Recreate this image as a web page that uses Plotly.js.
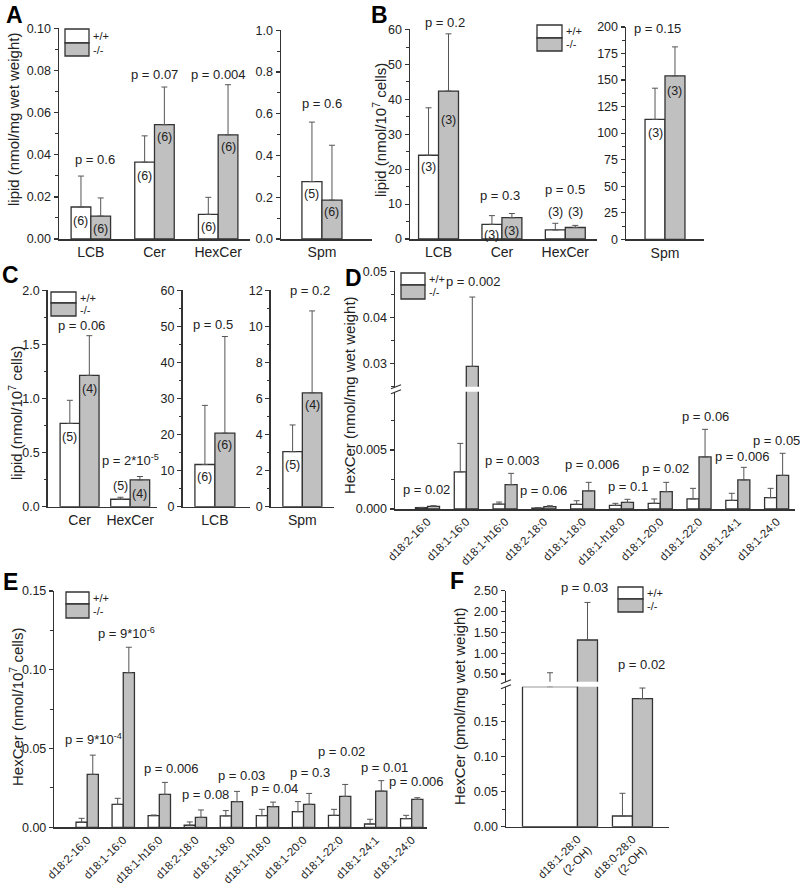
<!DOCTYPE html>
<html><head><meta charset="utf-8">
<script src="https://cdn.plot.ly/plotly-3.0.1.min.js"></script>
<style>body{margin:0;background:#fff}#chart{width:800px;height:892px}</style>
</head><body><div id="chart"></div>
<script>
// ================= DATA =================
const catsMain = ['LCB', 'Cer', 'HexCer'];
const catsSpm = ['Spm'];
// Panel A (nmol/mg wet weight)
const aWt = [0.0152, 0.0365, 0.0117];
const aWtSd = [0.0147, 0.0125, 0.0081];
const aKo = [0.0109, 0.0543, 0.0495];
const aKoSd = [0.0086, 0.0179, 0.0238];
const aNWt = [6, 6, 6], aNKo = [6, 6, 6];
const aP = ['p = 0.6', 'p = 0.07', 'p = 0.004'];
const aSpmWt = [0.275], aSpmWtSd = [0.285], aSpmKo = [0.186], aSpmKoSd = [0.263];
const aSpmNWt = [5], aSpmNKo = [6], aSpmP = ['p = 0.6'];
// Panel B (nmol/10^7 cells)
const bWt = [24.0, 4.2, 2.6];
const bWtSd = [13.6, 2.5, 1.9];
const bKo = [42.4, 6.1, 3.3];
const bKoSd = [16.4, 1.2, 0.6];
const bNWt = [3, 3, 3], bNKo = [3, 3, 3];
const bP = ['p = 0.2', 'p = 0.3', 'p = 0.5'];
const bSpmWt = [112.9], bSpmWtSd = [29.4], bSpmKo = [153.9], bSpmKoSd = [27.3];
const bSpmNWt = [3], bSpmNKo = [3], bSpmP = ['p = 0.15'];
// Panel C (nmol/10^7 cells)
const catsC1 = ['Cer', 'HexCer'];
const cWt = [0.769, 0.069], cWtSd = [0.214, 0.018];
const cKo = [1.213, 0.248], cKoSd = [0.367, 0.031];
const cNWt = [5, 5], cNKo = [4, 4];
const cP = ['p = 0.06', 'p = 2*10<sup>-5</sup>'];
const catsC2 = ['LCB'];
const cLcbWt = [11.7], cLcbWtSd = [16.4], cLcbKo = [20.4], cLcbKoSd = [26.8];
const cLcbNWt = [6], cLcbNKo = [6], cLcbP = ['p = 0.5'];
const cSpmWt = [3.05], cSpmWtSd = [1.48], cSpmKo = [6.31], cSpmKoSd = [4.54];
const cSpmNWt = [5], cSpmNKo = [4], cSpmP = ['p = 0.2'];
// Panel D (HexCer species, nmol/mg wet weight)
const catsD = ['d18:2-16:0', 'd18:1-16:0', 'd18:1-h16:0', 'd18:2-18:0', 'd18:1-18:0',
               'd18:1-h18:0', 'd18:1-20:0', 'd18:1-22:0', 'd18:1-24:1', 'd18:1-24:0'];
const dWt = [0.00011, 0.00314, 0.00042, 0.00008, 0.00040, 0.00031, 0.00048, 0.00085, 0.00073, 0.00096];
const dWtSd = [0.00003, 0.00242, 0.00017, 0.00003, 0.00030, 0.00017, 0.00037, 0.00090, 0.00060, 0.00079];
const dKo = [0.00023, 0.0294, 0.00206, 0.00020, 0.00153, 0.00056, 0.00147, 0.00441, 0.00246, 0.00285];
const dKoSd = [0.00005, 0.0150, 0.00096, 0.00008, 0.00073, 0.00026, 0.00079, 0.00234, 0.00107, 0.00187];
const dP = ['p = 0.02', 'p = 0.002', 'p = 0.003', 'p = 0.06', 'p = 0.006', 'p = 0.1', 'p = 0.02', 'p = 0.06', 'p = 0.006', 'p = 0.05'];
// Panel E (HexCer species, nmol/10^7 cells)
const catsE = catsD.slice();
const eWt = [0.0032, 0.0146, 0.0074, 0.0013, 0.0072, 0.0074, 0.0099, 0.0076, 0.0021, 0.0055];
const eWtSd = [0.0025, 0.0038, 0.0004, 0.0021, 0.0034, 0.0040, 0.0064, 0.0038, 0.0030, 0.0021];
const eKo = [0.0336, 0.0982, 0.0209, 0.0063, 0.0163, 0.0131, 0.0146, 0.0196, 0.0230, 0.0177];
const eKoSd = [0.0122, 0.0161, 0.0076, 0.0047, 0.0065, 0.0029, 0.0069, 0.0076, 0.0066, 0.0011];
const eP = ['p = 9*10<sup>-4</sup>', 'p = 9*10<sup>-6</sup>', 'p = 0.006', 'p = 0.08', 'p = 0.03', 'p = 0.04', 'p = 0.3', 'p = 0.02', 'p = 0.01', 'p = 0.006'];
// Panel F (pmol/mg wet weight)
const catsF = ['d18:1-28:0<br>(2-OH)', 'd18:0-28:0<br>(2-OH)'];
const fWt = [0.200, 0.0153], fWtSd = [0.330, 0.0324];
const fKo = [1.317, 0.183], fKoSd = [0.903, 0.015];
const fP = ['p = 0.03', 'p = 0.02'];

// ================= DRAWING =================
const FONT = 'Liberation Sans, Arial, Helvetica, sans-serif';
const W = 800, H = 892;
const fx = p => p / W, fy = p => 1 - p / H;
const data = [], annotations = [], shapes = [];
const layout = {
  width: W, height: H, margin: {l: 0, r: 0, t: 0, b: 0},
  paper_bgcolor: '#fff', plot_bgcolor: 'rgba(0,0,0,0)', barmode: 'overlay', showlegend: false,
  font: {family: FONT, color: '#222'}, annotations: annotations, shapes: shapes
};
const sfx = n => (n === 1 ? '' : String(n));
const LINE = '#333';

function makeAxes(n, box, xr, yr, yt, xo) {
  const s = sfx(n);
  layout['xaxis' + s] = Object.assign({
    domain: [fx(box[0]), fx(box[1])], range: xr, anchor: 'y' + s, type: 'category',
    showline: true, linecolor: LINE, linewidth: 1.5, ticks: '', showgrid: false, zeroline: false,
    tickfont: {size: 14, color: '#222'}, fixedrange: true
  }, xo || {});
  layout['yaxis' + s] = {
    domain: [fy(box[3]), fy(box[2])], range: yr, anchor: 'x' + s,
    showline: true, linecolor: LINE, linewidth: 1.5, ticks: 'outside', ticklen: 4, tickwidth: 1.2, tickcolor: LINE,
    showgrid: false, zeroline: false, tickfont: {size: 12.5, color: '#222'},
    tickmode: 'linear', tick0: 0, dtick: yt.dtick, tickformat: yt.fmt,
    minor: {ticks: 'outside', ticklen: 2.5, tickwidth: 1, tickcolor: LINE, dtick: yt.minor, tick0: 0, showgrid: false},
    fixedrange: true
  };
}

function eb(sd) {
  return {type: 'data', symmetric: false, array: sd, arrayminus: sd.map(() => 0),
          color: '#555', thickness: 1, width: 3};
}
function addBars(n, cats, wt, wtSd, ko, koSd, w, wtW, wtOff) {
  const s = sfx(n);
  data.push({type: 'bar', x: cats, y: wt, xaxis: 'x' + s, yaxis: 'y' + s,
    width: wtW || w, offset: wtOff || -w,
    marker: {color: '#ffffff', line: {color: LINE, width: 1.3}}, error_y: eb(wtSd), hoverinfo: 'skip'});
  data.push({type: 'bar', x: cats, y: ko, xaxis: 'x' + s, yaxis: 'y' + s, width: w, offset: 0,
    marker: {color: '#c0c0c0', line: {color: LINE, width: 1.3}}, error_y: eb(koSd), hoverinfo: 'skip'});
}
// n-labels: shift < 0 -> inside bar below top; shift > 0 -> above bar
function addN(n, vals, nums, w, side, shifts) {
  const s = sfx(n);
  vals.forEach((v, i) => {
    const sh = shifts[i];
    annotations.push({xref: 'x' + s, yref: 'y' + s, x: i + side * w / 2, y: v, text: '(' + nums[i] + ')',
      showarrow: false, xanchor: 'center', yanchor: sh > 0 ? 'bottom' : 'top', yshift: sh,
      font: {size: 12.5, color: '#222'}});
  });
}
function addP(nLo, nUp, loMax, wt, wtSd, ko, koSd, texts, xsh, ysh) {
  texts.forEach((t, i) => {
    const top = Math.max(wt[i] + wtSd[i], ko[i] + koSd[i]);
    const s = sfx((nUp && top > loMax) ? nUp : nLo);
    annotations.push({xref: 'x' + s, yref: 'y' + s, x: i, y: top, text: t, showarrow: false,
      xanchor: 'center', yanchor: 'bottom', xshift: xsh[i], yshift: ysh[i], font: {size: 13, color: '#222'}});
  });
}
function yTitle(x, y, t) {
  annotations.push({xref: 'paper', yref: 'paper', x: fx(x), y: fy(y), text: t, textangle: -90, showarrow: false,
    xanchor: 'center', yanchor: 'middle', font: {size: 15, color: '#222'}});
}
function letter(x, y, t) {
  annotations.push({xref: 'paper', yref: 'paper', x: fx(x), y: fy(y), text: '<b>' + t + '</b>', showarrow: false,
    xanchor: 'center', yanchor: 'middle', font: {size: 23, color: '#000'}});
}
function legendBox(x0, x1, yT, yM, yB) {
  shapes.push({type: 'rect', xref: 'paper', yref: 'paper', x0: fx(x0), x1: fx(x1), y0: fy(yM), y1: fy(yT),
    fillcolor: '#ffffff', line: {color: LINE, width: 1.3}});
  shapes.push({type: 'rect', xref: 'paper', yref: 'paper', x0: fx(x0), x1: fx(x1), y0: fy(yB), y1: fy(yM),
    fillcolor: '#c0c0c0', line: {color: LINE, width: 1.3}});
  annotations.push({xref: 'paper', yref: 'paper', x: fx(x1 + 2), y: fy((yT + yM) / 2), text: '+/+', showarrow: false,
    xanchor: 'left', yanchor: 'middle', font: {size: 11, color: '#222'}});
  annotations.push({xref: 'paper', yref: 'paper', x: fx(x1 + 2), y: fy((yM + yB) / 2), text: '-/-', showarrow: false,
    xanchor: 'left', yanchor: 'middle', font: {size: 11, color: '#222'}});
}
function breakMark(x, y) {
  [-2.5, 2.5].forEach(d => shapes.push({type: 'line', xref: 'paper', yref: 'paper',
    x0: fx(x - 5), y0: fy(y + d + 2), x1: fx(x + 5), y1: fy(y + d - 2), line: {color: LINE, width: 1.2}}));
}

// ---- Panel A ----
const wA1 = 0.31, wA2 = 0.22;
makeAxes(1, [59, 250, 28.3, 239], [-0.5, 2.5], [0, 0.1001], {dtick: 0.02, minor: 0.01, fmt: '.2f'});
addBars(1, catsMain, aWt, aWtSd, aKo, aKoSd, wA1);
addN(1, aWt, aNWt, wA1, -1, [-5, -5, -4]);
addN(1, aKo, aNKo, wA1, 1, [-4, -3, -3]);
addP(1, null, 0, aWt, aWtSd, aKo, aKoSd, aP, [4, 0, 0], [7, 3, 1]);
makeAxes(2, [281, 372, 30, 239], [-0.45, 0.55], [0, 1.001], {dtick: 0.2, minor: 0.1, fmt: '.1f'});
addBars(2, catsSpm, aSpmWt, aSpmWtSd, aSpmKo, aSpmKoSd, wA2);
addN(2, aSpmWt, aSpmNWt, wA2, -1, [-3]);
addN(2, aSpmKo, aSpmNKo, wA2, 1, [-3]);
addP(2, null, 0, aSpmWt, aSpmWtSd, aSpmKo, aSpmKoSd, aSpmP, [0], [9]);

// ---- Panel B ----
const wB1 = 0.315, wB2 = 0.256;
makeAxes(3, [410, 597, 29.3, 239], [-0.45, 2.5], [0, 60.1], {dtick: 10, minor: 5, fmt: 'd'});
addBars(3, catsMain, bWt, bWtSd, bKo, bKoSd, wB1);
addN(3, bWt, bNWt, wB1, -1, [-3, -2, 9]);
addN(3, bKo, bNKo, wB1, 1, [-20, -4, 6]);
addP(3, null, 0, bWt, bWtSd, bKo, bKoSd, bP, [6, -2, 0], [2, 9, 24]);
makeAxes(4, [626, 704, 26.7, 239.3], [-0.5, 0.5], [0, 200.2], {dtick: 25, minor: 12.5, fmt: 'd'});
addBars(4, catsSpm, bSpmWt, bSpmWtSd, bSpmKo, bSpmKoSd, wB2);
addN(4, bSpmWt, bSpmNWt, wB2, -1, [-5]);
addN(4, bSpmKo, bSpmNKo, wB2, 1, [-6]);
addP(4, null, 0, bSpmWt, bSpmWtSd, bSpmKo, bSpmKoSd, bSpmP, [-8, 0], [9]);

// ---- Panel C ----
const wC1 = 0.385, wC2 = 0.296, wC3 = 0.308;
makeAxes(5, [47.7, 157, 290, 506.7], [-0.63, 1.53], [0, 2.002], {dtick: 0.5, minor: 0.25, fmt: '.1f'});
addBars(5, catsC1, cWt, cWtSd, cKo, cKoSd, wC1);
addN(5, cWt, cNWt, wC1, -1, [-5, 4]);
addN(5, cKo, cNKo, wC1, 1, [-5, -5]);
addP(5, null, 0, cWt, cWtSd, cKo, cKoSd, cP, [2, 0], [1, 6]);
makeAxes(6, [182.5, 250, 290, 506.7], [-0.48, 0.52], [0, 60.1], {dtick: 10, minor: 5, fmt: 'd'});
addBars(6, catsC2, cLcbWt, cLcbWtSd, cLcbKo, cLcbKoSd, wC2);
addN(6, cLcbWt, cLcbNWt, wC2, -1, [-3]);
addN(6, cLcbKo, cLcbNKo, wC2, 1, [-3]);
addP(6, null, 0, cLcbWt, cLcbWtSd, cLcbKo, cLcbKoSd, cLcbP, [-2], [3]);
makeAxes(7, [270.7, 334, 290, 506.7], [-0.5, 0.5], [0, 12.01], {dtick: 2, minor: 1, fmt: 'd'});
addBars(7, catsSpm, cSpmWt, cSpmWtSd, cSpmKo, cSpmKoSd, wC3);
addN(7, cSpmWt, cSpmNWt, wC3, -1, [-4]);
addN(7, cSpmKo, cSpmNKo, wC3, 1, [-3]);
addP(7, null, 0, cSpmWt, cSpmWtSd, cSpmKo, cSpmKoSd, cSpmP, [8], [11]);

// ---- Panel D (broken axis) ----
const wD = 0.31, dRange = [-0.838, 9.474], dLoMax = 0.00994;
makeAxes(8, [395, 795, 391.7, 509], dRange, [0, dLoMax], {dtick: 0.005, minor: 0.0025, fmt: '.3f'},
  {tickangle: -45, tickfont: {size: 11.5, color: '#222'}});
makeAxes(9, [395, 795, 270.7, 386.7], dRange, [0.025, 0.0501], {dtick: 0.01, minor: 0.005, fmt: '.2f'},
  {visible: false});
addBars(8, catsD, dWt, dWtSd, dKo, dKoSd, wD);
addBars(9, catsD, dWt, dWtSd, dKo, dKoSd, wD);
addP(8, 9, dLoMax, dWt, dWtSd, dKo, dKoSd, dP,
  [-1, 7, 7, 0, 10, 7, 5, 6, 5, 0], [7, 6, 3, 6, 8, 3, 4, 3, 1, 3]);
breakMark(396, 389.2);

// ---- Panel E ----
const wE = 0.31;
makeAxes(10, [54.3, 426.7, 590.7, 827.3], [-0.912, 9.415], [0, 0.1502], {dtick: 0.05, minor: 0.025, fmt: '.2f'},
  {tickangle: -45, tickfont: {size: 11.5, color: '#222'}});
addBars(10, catsE, eWt, eWtSd, eKo, eKoSd, wE);
addP(10, null, 0, eWt, eWtSd, eKo, eKoSd, eP,
  [6, 3, 12, 10, 10, 7, 6, 2, 9, 5], [6, 4, 4, 6, 6, 4, 11, 23, 4, 7]);

// ---- Panel F (broken axis) ----
const wF = 0.364, fRange = [-1.3, 1.67], fLoMax = 0.1999;
makeAxes(11, [506, 669.3, 686.7, 826.7], fRange, [0, fLoMax], {dtick: 0.05, minor: 0.025, fmt: '.2f'},
  {tickangle: -45, tickfont: {size: 11.5, color: '#222'}});
makeAxes(12, [506, 669.3, 590.7, 681.7], fRange, [0.315, 2.502], {dtick: 0.5, minor: 0.25, fmt: '.2f'},
  {visible: false});
addBars(11, catsF, fWt, fWtSd, fKo, fKoSd, wF, [1.0, wF], [-1.0, -wF]);
addBars(12, catsF, fWt, fWtSd, fKo, fKoSd, wF, [1.0, wF], [-1.0, -wF]);
addP(11, 12, fLoMax, fWt, fWtSd, fKo, fKoSd, fP, [7, 9], [5, 14]);
breakMark(506, 684.2);

// ---- titles, letters, legends ----
yTitle(14, 120, 'lipid (nmol/mg wet weight)');
yTitle(380, 130, 'lipid (nmol/10<sup>7</sup> cells)');
yTitle(15, 413, 'lipid (nmol/10<sup>7</sup> cells)');
yTitle(349, 395, 'HexCer (nmol/mg wet weight)');
yTitle(16, 707, 'HexCer (nmol/10<sup>7</sup> cells)');
yTitle(459, 706, 'HexCer (pmol/mg wet weight)');
letter(14, 15, 'A'); letter(379, 15, 'B'); letter(10, 275, 'C');
letter(353, 278, 'D'); letter(10, 582, 'E'); letter(457, 581, 'F');
legendBox(65, 89, 29, 43, 56);
legendBox(537, 562, 25, 38, 51);
legendBox(51, 76, 292, 303, 316);
legendBox(401, 425, 273, 285, 299);
legendBox(66, 89, 592, 604, 618);
legendBox(618, 643, 587, 599, 612);

Plotly.newPlot('chart', data, layout, {staticPlot: true});
</script>
</body></html>
